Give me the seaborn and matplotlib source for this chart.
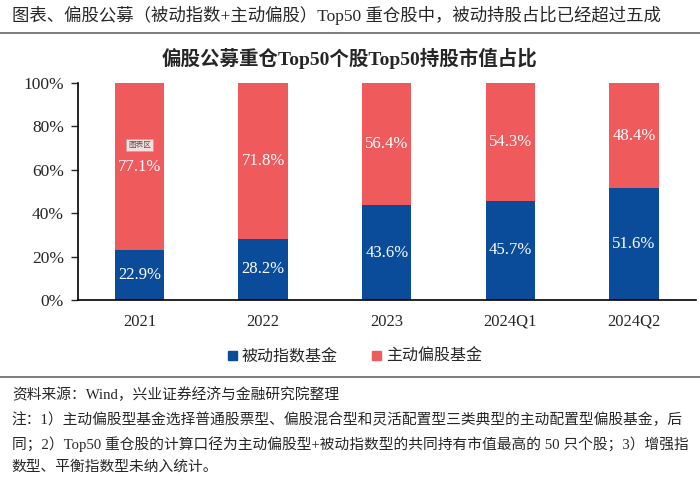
import pandas as pd
import numpy as np
import matplotlib.pyplot as plt
import seaborn as sns
from matplotlib.lines import Line2D
from matplotlib.patches import Patch

periods = ['2021', '2022', '2023', '2024Q1', '2024Q2']
passive = [22.9, 28.2, 43.6, 45.7, 51.6]
active = [77.1, 71.8, 56.4, 54.3, 48.4]

blue = '#0b4c9a'
red = '#ef5b5d'

sns.set_theme(style='white')
plt.rcParams['font.family'] = ['Liberation Serif', 'Noto Sans CJK SC']
plt.rcParams['axes.unicode_minus'] = False

df = pd.DataFrame({'period': periods, 'passive': passive, 'active': active})
df['total'] = df['passive'] + df['active']

fig = plt.figure(figsize=(7, 4.84), dpi=100)
ax = fig.add_axes([0.111, 0.380, 0.883, 0.4485])

# red (total) behind, blue in front -> stacked look
sns.barplot(data=df, x='period', y='total', color=red, width=0.4, saturation=1,
            linewidth=0, ax=ax)
sns.barplot(data=df, x='period', y='passive', color=blue, width=0.4, saturation=1,
            linewidth=0, ax=ax)

red_bars = ax.containers[0]
blue_bars = ax.containers[1]
for bar, p in zip(red_bars, df['passive']):
    bar.set_y(p)
    bar.set_height(100 - p)
ax.bar_label(red_bars, labels=[f'{v:.1f}%' for v in active], label_type='center',
             color='white', fontsize=12)
ax.bar_label(blue_bars, labels=[f'{v:.1f}%' for v in passive], label_type='center',
             color='white', fontsize=12)

ax.text(0, 71.5, '图表区', ha='center', va='center', fontsize=5.5, color='#555555',
        family=['Noto Sans CJK SC'],
        bbox=dict(boxstyle='square,pad=0.25', fc='#f5dede', ec='#aaaaaa', lw=0.5))

ax.set_ylim(0, 100)
ax.set_yticks(np.arange(0, 101, 20))
ax.set_yticklabels([f'{v}%' for v in range(0, 101, 20)])
ax.set_xlabel('')
ax.set_ylabel('')
ax.tick_params(axis='y', length=5, width=1, direction='out', left=True, labelsize=12.5, pad=5)
ax.tick_params(axis='x', length=0, labelsize=12, pad=10)
for s in ['top', 'right']:
    ax.spines[s].set_visible(False)
for s in ['left', 'bottom']:
    ax.spines[s].set_color('black')
    ax.spines[s].set_linewidth(1.2)

# header and title
fig.text(0.017, 0.969, '图表、偏股公募（被动指数+主动偏股）Top50 重仓股中，被动持股占比已经超过五成',
         fontsize=12.5, va='center', ha='left')
fig.add_artist(Line2D([0, 1], [0.932, 0.932], color='#666666', lw=1.2, transform=fig.transFigure))
fig.text(0.5, 0.880, '偏股公募重仓Top50个股Top50持股市值占比', fontsize=14, fontweight='bold',
         va='center', ha='center')

# legend
handles = [Patch(color=blue, label='被动指数基金'), Patch(color=red, label='主动偏股基金')]
fig.legend(handles=handles, loc='center', bbox_to_anchor=(0.507, 0.262), ncol=2, frameon=False,
           fontsize=11.5, handlelength=0.55, handleheight=0.55, handletextpad=0.3, columnspacing=2.2)

fig.add_artist(Line2D([0, 1], [0.221, 0.221], color='#666666', lw=1.2, transform=fig.transFigure))

notes = [
    '资料来源：Wind，兴业证券经济与金融研究院整理',
    '注：1）主动偏股型基金选择普通股票型、偏股混合型和灵活配置型三类典型的主动配置型偏股基金，后',
    '同；2）Top50 重仓股的计算口径为主动偏股型+被动指数型的共同持有市值最高的 50 只个股；3）增强指',
    '数型、平衡指数型未纳入统计。',
]
ys = [0.184, 0.132, 0.082, 0.035]
for t, y in zip(notes, ys):
    fig.text(0.017, y, t, fontsize=10.6, va='center', ha='left')

fig.savefig('out.png', dpi=100)
